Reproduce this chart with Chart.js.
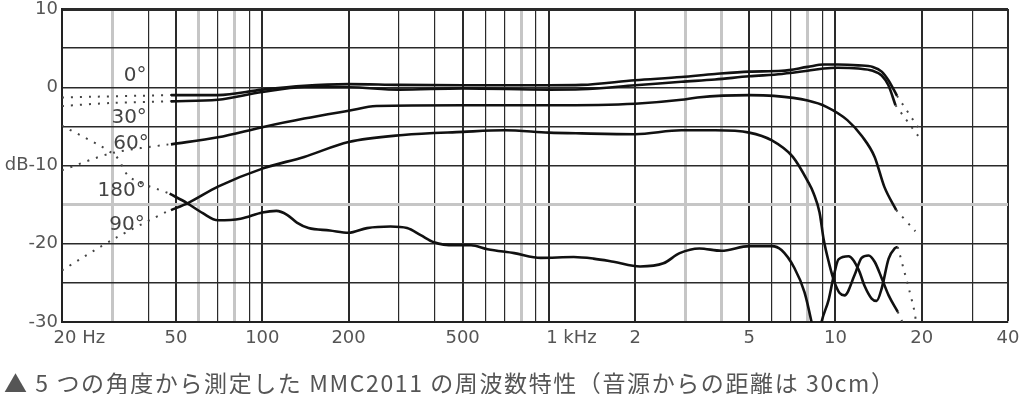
<!DOCTYPE html>
<html>
<head>
<meta charset="utf-8">
<script src="https://cdn.jsdelivr.net/npm/chart.js@4.4.1/dist/chart.umd.min.js"></script>
<style>
  body { margin: 0; background: #fff; }
  #wrap { position: relative; width: 1024px; height: 394px; }
  #caption {
    position: absolute; left: 4px; top: 365px;
    font-family: "Noto Sans CJK JP", sans-serif; font-size: 23px;
    letter-spacing: 1.6px; color: #555; white-space: nowrap;
  }
</style>
</head>
<body>
<div id="wrap">
  <canvas id="grafico" width="1024" height="394"></canvas>
  <div id="caption">▲ 5 つの角度から測定した MMC2011 の周波数特性（音源からの距離は 30cm）</div>
</div>
<script>
// grid / ticks
const gridFreqs = [20, 30, 40, 50, 60, 70, 80, 90, 100, 200, 300, 400, 500, 600, 700, 800, 900,
  1000, 2000, 3000, 4000, 5000, 6000, 7000, 8000, 9000, 10000, 20000, 30000, 40000];
const majorFreqs = [50, 100, 200, 500, 1000, 2000, 5000, 10000, 20000, 40000];
const paleFreqs = [30, 60, 80, 800, 3000, 4000, 8000];
const xTickValues = [20, 50, 100, 200, 500, 1000, 2000, 5000, 10000, 20000, 40000];
const xTickLabels = ['20 Hz', '50', '100', '200', '500', '1 kHz', '2', '5', '10', '20', '40'];
const yTickValues = [10, 0, -10, -20, -30];
const yTickLabels = ['10', '0', 'dB-10', '-20', '-30'];

// measured curves (Hz / dB)
const f0 = [48, 70, 100, 140, 200, 300, 500, 1000, 1300, 2000, 2900, 3800, 5000, 6500, 8000, 9100, 10200, 12000, 13500, 14500, 15300, 16400];
const db0 = [-1.0, -1.0, -0.3, 0.2, 0.4, 0.3, 0.25, 0.25, 0.3, 0.9, 1.3, 1.7, 2.0, 2.1, 2.6, 2.9, 2.9, 2.8, 2.6, 2.0, 0.9, -1.1];
const f30 = [48, 70, 100, 140, 200, 300, 500, 1000, 1300, 2000, 2900, 3800, 5000, 6500, 8000, 9100, 10200, 12000, 13500, 14500, 15300, 16200];
const db30 = [-1.8, -1.6, -0.6, 0.0, 0.0, -0.3, -0.15, -0.3, -0.25, 0.25, 0.7, 1.0, 1.4, 1.7, 2.1, 2.4, 2.5, 2.4, 2.1, 1.5, 0.25, -2.3];
const f60 = [48, 70, 100, 140, 200, 250, 500, 1000, 2000, 2900, 3300, 5000, 6100, 8000, 9300, 11000, 12400, 13700, 14800, 16300];
const db60 = [-7.3, -6.4, -5.1, -4.0, -3.0, -2.4, -2.3, -2.3, -2.1, -1.6, -1.3, -1.0, -1.1, -1.7, -2.5, -4.2, -6.3, -8.9, -12.7, -15.7];
const f90 = [48, 55, 70, 100, 140, 200, 310, 500, 700, 1000, 1300, 2000, 2900, 3800, 5000, 6000, 7100, 8000, 8400, 8800, 9100, 9500, 9900, 10340, 10760, 11660, 12340, 13050, 13700, 14500, 15330, 16500];
const db90 = [-15.7, -14.8, -12.7, -10.4, -8.9, -7.0, -6.1, -5.7, -5.5, -5.8, -5.9, -6.0, -5.5, -5.5, -5.8, -6.8, -8.9, -12.0, -13.6, -16.0, -19.5, -22.5, -24.8, -26.3, -26.6, -24.0, -21.8, -21.5, -22.3, -24.4, -26.6, -28.7];
const f180 = [47.5, 54.6, 62, 70, 84, 100, 112, 122, 132, 145, 172, 200, 232, 280, 320, 357, 397, 468, 535, 611, 757, 937, 1220, 1430, 1680, 2080, 2510, 2860, 3350, 4000, 5000, 6000, 6480, 7190, 7800, 8250, 8600, 8940, 9460, 9850, 10250, 11110, 12040, 12640, 13370, 13920, 14500, 15330, 16090, 16500];
const db180 = [-13.6, -14.8, -16.1, -17.0, -16.8, -16.0, -15.8, -16.3, -17.3, -18.0, -18.3, -18.6, -18.0, -17.8, -18.0, -18.9, -19.8, -20.2, -20.2, -20.7, -21.2, -21.8, -21.7, -21.9, -22.3, -22.9, -22.5, -21.2, -20.6, -20.9, -20.3, -20.3, -20.8, -23.1, -26.2, -30.0, -33.5, -30.0, -27.2, -24.2, -22.0, -21.6, -23.3, -25.4, -27.0, -27.3, -25.7, -21.9, -20.6, -20.4];

// dotted extrapolations (low end)
const fLow0 = [20, 48];
const dbLow0 = [-1.3, -1.0];
const fLow30 = [20, 30, 48];
const dbLow30 = [-2.4, -2.0, -1.8];
const fLow60 = [20, 30, 47];
const dbLow60 = [-10.6, -8.4, -7.3];
const fLow90 = [20, 30.6, 47.5];
const dbLow90 = [-23.4, -19.3, -15.7];
const fLow180 = [20, 30.6, 34.5, 47.5];
const dbLow180 = [-4.9, -8.7, -11.5, -13.6];

// dotted extrapolations (high end)
const fHigh0 = [16400, 19400];
const dbHigh0 = [-1.1, -5.1];
const fHigh30 = [16200, 19600];
const dbHigh30 = [-2.3, -6.4];
const fHigh60 = [16300, 19000];
const dbHigh60 = [-15.7, -18.4];
const fHigh90 = [16500, 17600];
const dbHigh90 = [-28.7, -31];
const fHigh180 = [16500, 18750, 19200];
const dbHigh180 = [-20.4, -28.2, -30.5];

// curve name labels (anchor Hz / dB)
const curveNames = ['0°', '30°', '60°', '180°', '90°'];
const nameFreqs = [36, 34.3, 34.8, 32.3, 33.7];
const nameDbs = [1.5, -3.9, -7.2, -13.2, -17.6];

const pts = (f, d) => f.map((v, i) => ({ x: v, y: d[i] }));

const solid = (f, d) => ({
  data: pts(f, d), borderColor: '#111', borderWidth: 2.6,
  pointRadius: 0, cubicInterpolationMode: 'monotone', fill: false
});
const dotted = (f, d) => ({
  data: pts(f, d), borderColor: '#444', borderWidth: 2,
  borderDash: [2, 7], pointRadius: 0, tension: 0.3, fill: false
});

const labelsPlugin = {
  id: 'labels',
  afterDraw(chart) {
    const ctx = chart.ctx;
    const xs = chart.scales.x, ys = chart.scales.y;
    ctx.save();
    ctx.fillStyle = '#555';
    ctx.font = '18px "DejaVu Sans"';
    ctx.textBaseline = 'middle';
    xTickValues.forEach((v, i) => {
      const px = xs.getPixelForValue(v);
      const txt = xTickLabels[i];
      if (txt.indexOf(' ') > 0) {
        const num = txt.split(' ')[0];
        ctx.textAlign = 'left';
        ctx.fillText(txt, px - ctx.measureText(num).width / 2 + 3, 338);
      } else {
        ctx.textAlign = 'center';
        ctx.fillText(txt, px, 338);
      }
    });
    ctx.font = '20px "DejaVu Sans"';
    ctx.fillStyle = '#444';
    ctx.textAlign = 'center';
    curveNames.forEach((n, i) => {
      ctx.fillText(n, xs.getPixelForValue(nameFreqs[i]), ys.getPixelForValue(nameDbs[i]));
    });
    ctx.restore();
  }
};

Chart.defaults.font.family = '"DejaVu Sans"';

const grafico = document.getElementById('grafico').getContext('2d');
const myChart = new Chart(grafico, {
  type: 'line',
  data: {
    datasets: [
      dotted(fLow0, dbLow0), dotted(fLow30, dbLow30), dotted(fLow60, dbLow60),
      dotted(fLow90, dbLow90), dotted(fLow180, dbLow180),
      dotted(fHigh0, dbHigh0), dotted(fHigh30, dbHigh30), dotted(fHigh60, dbHigh60),
      dotted(fHigh90, dbHigh90), dotted(fHigh180, dbHigh180),
      solid(f0, db0), solid(f30, db30), solid(f60, db60), solid(f90, db90), solid(f180, db180)
    ]
  },
  options: {
    responsive: false,
    devicePixelRatio: 1,
    animation: false,
    layout: { padding: { left: 0, right: 16, top: 9, bottom: 0 } },
    plugins: { legend: { display: false }, tooltip: { enabled: false } },
    scales: {
      x: {
        type: 'logarithmic',
        min: 20, max: 40000,
        afterBuildTicks: (axis) => { axis.ticks = gridFreqs.map(v => ({ value: v })); },
        afterFit: (s) => { s.height = 72; s.paddingLeft = 0; s.paddingRight = 0; },
        ticks: { display: false },
        border: { display: true, color: '#222', width: 2 },
        grid: {
          drawTicks: false,
          color: (c) => paleFreqs.includes(c.tick.value) ? '#c6c6c6' : '#2a2a2a',
          lineWidth: (c) => {
            const v = c.tick.value;
            if (paleFreqs.includes(v)) return 3;
            return majorFreqs.includes(v) ? 2 : 1.2;
          }
        }
      },
      y: {
        min: -30, max: 10,
        afterFit: (s) => { s.width = 62; s.paddingTop = 0; s.paddingBottom = 0; },
        ticks: {
          stepSize: 5,
          padding: 4,
          color: '#555',
          font: { size: 18 },
          callback: (v) => {
            const i = yTickValues.indexOf(v);
            return i >= 0 ? yTickLabels[i] : '';
          }
        },
        border: { display: true, color: '#222', width: 2 },
        grid: {
          drawTicks: false,
          color: (c) => c.tick.value === -15 ? '#c6c6c6' : '#2a2a2a',
          lineWidth: (c) => {
            const v = c.tick.value;
            if (v === -15) return 3;
            return v === 10 ? 3 : 1.5;
          }
        }
      }
    }
  },
  plugins: [labelsPlugin]
});
</script>
</body>
</html>
